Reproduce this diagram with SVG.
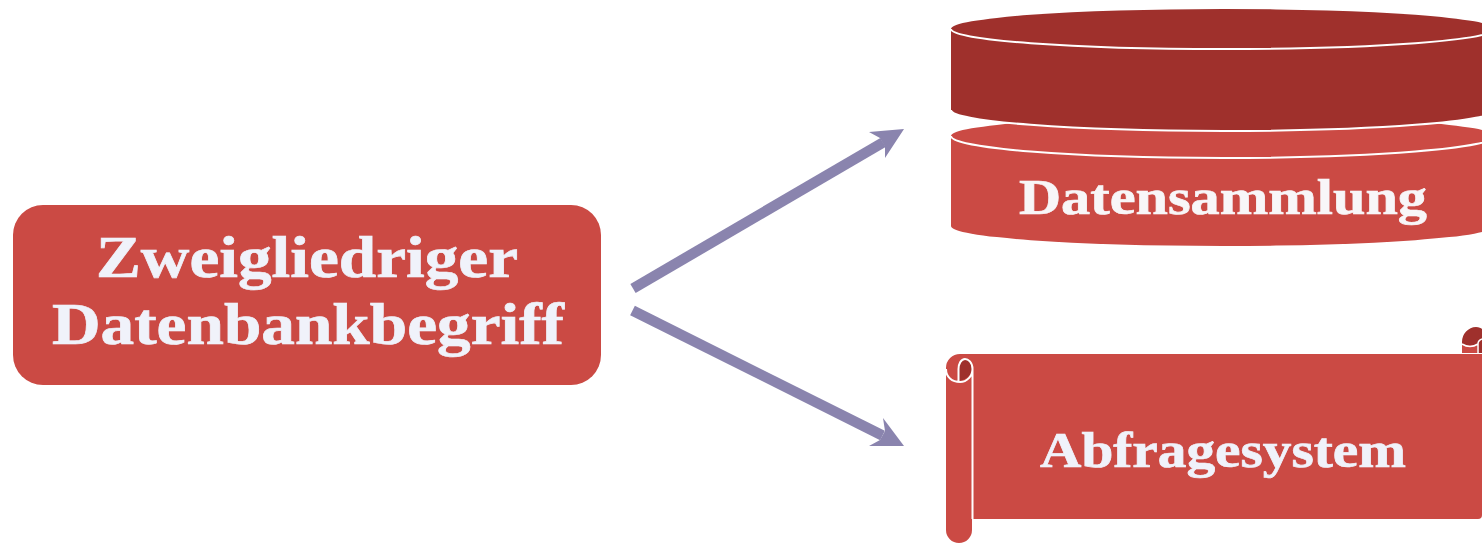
<svg xmlns="http://www.w3.org/2000/svg" width="1482" height="543" viewBox="0 0 1482 543">
<style>
.t{font-family:"Liberation Serif","Times New Roman",serif;font-weight:700;fill:#f0f2fa;text-anchor:middle;stroke:#f0f2fa;stroke-width:.7}
.red{fill:#cb4a44}.dark{fill:#9f302c}.edge{fill:none;stroke:#fff;stroke-width:2}
.c{fill:none;stroke:#8a84ae;stroke-width:10.500}.a{fill:#8a84ae}
</style>
<g id="connectors">
<path class="c" d="M633 288.500L883 142.500"/><path class="a" d="M904 129L869 132L880 138L885 147L885 158Z"/>
<path class="c" d="M632.500 310.500L882.500 435.500"/><path class="a" d="M904 446L883 418L885 431L880 440L869 446Z"/>
</g>
<g id="n1"><rect class="red" x="13" y="205" width="588" height="180" rx="30"/>
<text class="t" x="307" y="277" font-size="60" textLength="422" lengthAdjust="spacingAndGlyphs">Zweigliedriger</text>
<text class="t" x="308" y="344" font-size="60" textLength="512" lengthAdjust="spacingAndGlyphs">Datenbankbegriff</text></g>
<g id="n2">
<path class="red" d="M951 136A272 20 0 0 1 1495 136V226A272 20 0 0 1 951 226Z"/>
<path class="edge" d="M951 136A272 22 0 0 0 1495 136"/>
<path class="dark" d="M951 29A272 20 0 0 1 1495 29V110A272 21 0 0 1 951 110Z"/>
<path class="edge" d="M951 110A272 21 0 0 0 1495 110"/>
<path class="edge" d="M951 29A272 20 0 0 0 1495 29"/>
<text class="t" x="1223" y="214" font-size="51" style="fill:#f8f6f8;stroke:#f8f6f8" textLength="408" lengthAdjust="spacingAndGlyphs">Datensammlung</text></g>
<g id="n3">
<path class="dark" d="M1462 342A14.500 15 0 0 1 1476 327C1479 327 1481 328 1482 329V353H1462Z"/>
<path class="red" d="M1462 345H1477V353H1462Z"/>
<path fill="none" stroke="#fff" stroke-width="1.500" d="M1462 344C1467 347 1473 347 1478 344V353M1478 344C1478 341 1479 340 1482 339"/>
<path class="red" d="M973 354H1482V515Q1482 519 1478 519H973Z"/>
<path class="red" d="M946 368A14 14 0 0 1 960 354H975V381H972V530A13 13 0 0 1 946 530Z"/>
<path class="dark" d="M959 381V368C959 362 963 360 966 360C970 360 972 364 972 368C972 375 966 380 959 381Z"/>
<path fill="none" stroke="#fff" stroke-width="2" d="M946 369C946 377 952 382 960 382C967 382 972.500 376 972.500 369C972.500 362 968 359 965 359C961 359 958.500 364 958.500 369V382M972.500 369V519"/>
<text class="t" x="1223" y="467" font-size="51" textLength="366" lengthAdjust="spacingAndGlyphs">Abfragesystem</text></g>
</svg>
